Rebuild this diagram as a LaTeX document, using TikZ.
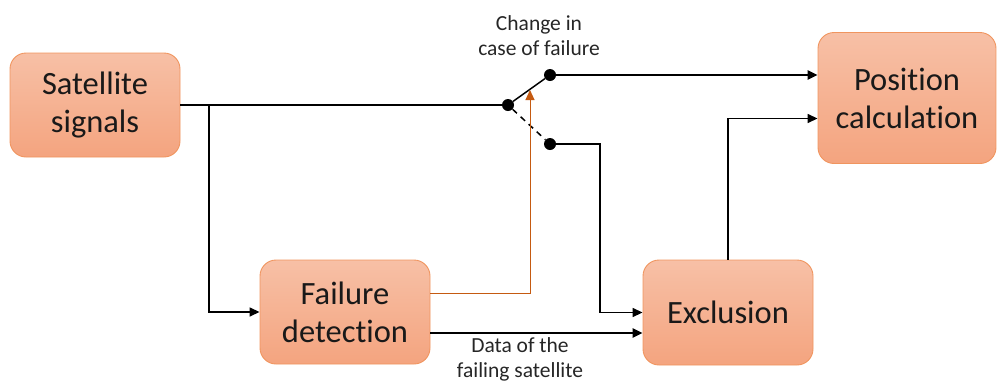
\documentclass[tikz,border=0pt]{standalone}
\usepackage{fontspec}
\setmainfont{Carlito}[Ligatures=NoCommon]
\usetikzlibrary{arrows.meta,calc}
\definecolor{boxtop}{HTML}{F7C0A6}
\definecolor{boxbot}{HTML}{F4A47F}
\definecolor{boxline}{HTML}{F0955F}
\definecolor{ctrl}{HTML}{C55A11}
\begin{document}
\begin{tikzpicture}[x=1pt,y=-1pt,
  blk/.style={rectangle,rounded corners=16pt,draw=boxline,line width=0.9pt,
    top color=boxtop,bottom color=boxbot,align=center,inner sep=0pt,
    font=\fontsize{32.5}{38}\selectfont,text=black!90},
  conn/.style={line width=1.5pt,draw=black},
  arr/.style={conn,-{Triangle[length=10pt,width=9pt]}},
  thickarr/.style={line width=2.6pt,-{Triangle[length=10pt,width=9pt]}},
  lbl/.style={align=center,font=\fontsize{21.5}{25}\selectfont,text=black!85},
  dot/.style={circle,fill=black,inner sep=0pt,minimum size=12pt}]
\useasboundingbox (0,0) rectangle (997,381);
\node[blk,minimum width=170pt,minimum height=104pt] (sat) at (95,105) {Satellite\\signals};
\node[blk,minimum width=170pt,minimum height=104pt] (fail) at (345,312) {Failure\\detection};
\node[blk,minimum width=170pt,minimum height=105pt] (excl) at (728,312.5) {Exclusion};
\node[blk,minimum width=178pt,minimum height=131pt] (pos) at (907,98) {Position\\calculation};
\node[dot] (pivot) at (508,105) {};
\node[dot] (up) at (550,75) {};
\node[dot] (lo) at (550,144) {};
\coordinate (br) at (209,105);
\coordinate (lx) at (600,144);
\coordinate (ox) at (530,293);
\coordinate (otip) at (530,90);
\node[lbl] (chg) at (539,36) {Change in\\case of failure};
\node[lbl] (data) at (520,359) {Data of the\\failing satellite};
\draw[conn] (sat.east |- br) -- (pivot);
\draw[arr] (br) |- (fail.west);
\draw[conn] (pivot) -- (up);
\draw[conn,dash pattern=on 6pt off 5pt] (pivot) -- (lo);
\draw[thickarr] (up) -- (up -| pos.west);
\draw[arr] (lo) -- (lx) |- (excl.west);
\draw[thickarr] ($(fail.east)+(0,21)$) -- ($(excl.west)+(0,20.5)$);
\draw[line width=1pt,draw=ctrl,-{Triangle[length=10pt,width=9pt]}] ($(fail.east)+(0,-19)$) -- (ox) -- (otip);
\draw[arr] (excl.north) |- ($(pos.west)+(0,20.5)$);
\end{tikzpicture}
\end{document}
